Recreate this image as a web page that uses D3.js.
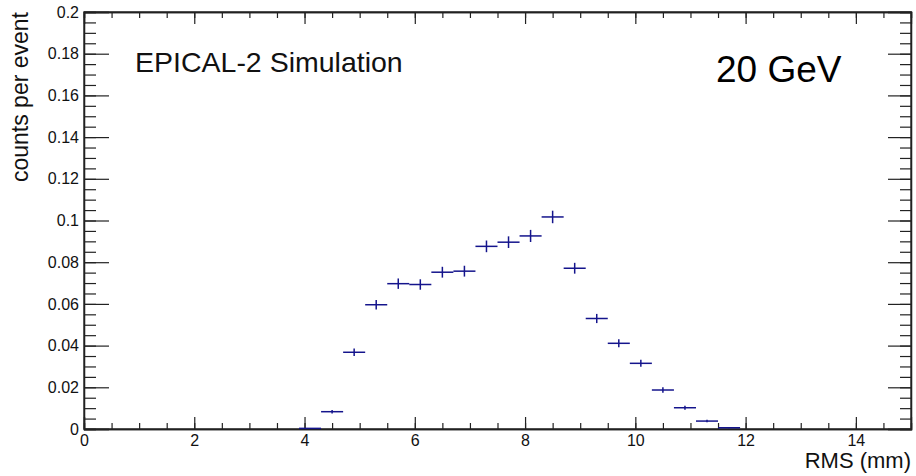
<!DOCTYPE html>
<html><head><meta charset="utf-8">
<script src="https://cdn.jsdelivr.net/npm/d3@7"></script>
<style>
html,body{margin:0;padding:0;background:#fff;}
svg{display:block;font-family:"Liberation Sans",Arial,Helvetica,sans-serif;}
</style></head>
<body>
<svg id="chart" width="916" height="476"></svg>
<script>
// ---- data ----
const binCenters = [4.1,4.5,4.9,5.3,5.7,6.1,6.5,6.9,7.3,7.7,8.1,8.5,8.9,9.3,9.7,10.1,10.5,10.9,11.3,11.7];
const counts     = [0.0003,0.0083,0.0368,0.0596,0.0697,0.0693,0.0752,0.0757,0.0876,0.0896,0.0926,0.1017,0.0771,0.0530,0.0411,0.0315,0.0187,0.0102,0.0038,0.0006];
const errors     = [0.00016,0.00086,0.0018,0.0023,0.0025,0.0025,0.0026,0.0026,0.0028,0.0028,0.0029,0.0030,0.0026,0.0022,0.0019,0.0017,0.0013,0.00095,0.00058,0.00023];
const binWidth = 0.4;
const xTickValues = [0,2,4,6,8,10,12,14];
const yTickValues = [0,0.02,0.04,0.06,0.08,0.1,0.12,0.14,0.16,0.18,0.2];
const yTickLabels = ["0","0.02","0.04","0.06","0.08","0.1","0.12","0.14","0.16","0.18","0.2"];
const xTitle = "RMS (mm)";
const yTitle = "counts per event";
const label1 = "EPICAL-2 Simulation";
const label2 = "20 GeV";

// ---- layout ----
const L = 84, R = 911, T = 12, B = 429;
const svg = d3.select("#chart");
const x = d3.scaleLinear().domain([0,15]).range([L,R]);
const y = d3.scaleLinear().domain([0,0.2]).range([B,T]);
const axisColor = "#222";

const xMinor = d3.range(0,15.0001,0.5);
const yMinor = d3.range(0,0.2001,0.005);

function styleAxis(g){
  g.selectAll("path").attr("stroke",axisColor).attr("stroke-width",1.3);
  g.selectAll("line").attr("stroke",axisColor).attr("stroke-width",1.2);
  g.selectAll("text").attr("fill","#111").style("font-size","16px");
}

// minor ticks
svg.append("g").attr("transform",`translate(0,${B})`)
  .call(d3.axisBottom(x).tickValues(xMinor).tickSize(-6).tickFormat(""))
  .call(styleAxis);
svg.append("g").attr("transform",`translate(0,${T})`)
  .call(d3.axisTop(x).tickValues(xMinor).tickSize(-6).tickFormat(""))
  .call(styleAxis);
svg.append("g").attr("transform",`translate(${L},0)`)
  .call(d3.axisLeft(y).tickValues(yMinor).tickSize(-12).tickFormat(""))
  .call(styleAxis);
svg.append("g").attr("transform",`translate(${R},0)`)
  .call(d3.axisRight(y).tickValues(yMinor).tickSize(-11).tickFormat(""))
  .call(styleAxis);

// major ticks
svg.append("g").attr("transform",`translate(0,${B})`)
  .call(d3.axisBottom(x).tickValues(xTickValues).tickSize(-12).tickPadding(6).tickFormat(d3.format("d")))
  .call(styleAxis);
svg.append("g").attr("transform",`translate(0,${T})`)
  .call(d3.axisTop(x).tickValues(xTickValues).tickSize(-12).tickFormat(""))
  .call(styleAxis);
svg.append("g").attr("transform",`translate(${L},0)`)
  .call(d3.axisLeft(y).tickValues(yTickValues).tickSize(-25).tickPadding(5)
     .tickFormat((d,i)=>yTickLabels[i]))
  .call(styleAxis);
svg.append("g").attr("transform",`translate(${R},0)`)
  .call(d3.axisRight(y).tickValues(yTickValues).tickSize(-23).tickFormat(""))
  .call(styleAxis);

// frame
svg.append("rect").attr("x",L).attr("y",T).attr("width",R-L).attr("height",B-T)
  .attr("fill","none").attr("stroke",axisColor).attr("stroke-width",1.3);

// data: error-bar crosses
const dataColor = "#14148c";
const pts = svg.append("g").selectAll("g").data(binCenters.map((c,i)=>({c,v:counts[i],e:errors[i]})))
  .join("g");
pts.append("line")
  .attr("x1",d=>x(d.c-binWidth/2)).attr("x2",d=>x(d.c+binWidth/2))
  .attr("y1",d=>y(d.v)).attr("y2",d=>y(d.v))
  .attr("stroke",dataColor).attr("stroke-width",1.5);
pts.append("line")
  .attr("x1",d=>x(d.c)).attr("x2",d=>x(d.c))
  .attr("y1",d=>Math.min(B,y(d.v-d.e))).attr("y2",d=>y(d.v+d.e))
  .attr("stroke",dataColor).attr("stroke-width",1.5);

// titles
svg.append("text").attr("x",R).attr("y",468).attr("text-anchor","end")
  .style("font-size","22px").attr("fill","#111").text(xTitle);
svg.append("text").attr("transform","translate(28,12) rotate(-90)").attr("text-anchor","end")
  .style("font-size","23px").attr("fill","#111").text(yTitle);

// labels
svg.append("text").attr("x",135).attr("y",72).style("font-size","28.5px").attr("fill","#111").text(label1);
svg.append("text").attr("x",716).attr("y",82).style("font-size","37px").attr("fill","#000").text(label2);
</script>
</body></html>
